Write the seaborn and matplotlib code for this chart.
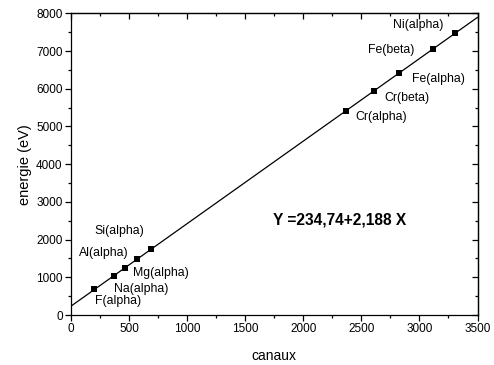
import matplotlib
matplotlib.use("Agg")
import matplotlib.pyplot as plt
import seaborn as sns
import numpy as np
import pandas as pd
from matplotlib.ticker import MultipleLocator

# Data
labels = ["F(alpha)", "Na(alpha)", "Mg(alpha)", "Al(alpha)", "Si(alpha)",
          "Cr(alpha)", "Cr(beta)", "Fe(alpha)", "Fe(beta)", "Ni(alpha)"]
canaux = [202, 368, 466, 572, 688, 2367, 2611, 2820, 3118, 3310]
energie = [677, 1041, 1254, 1487, 1740, 5415, 5947, 6404, 7058, 7478]
intercept = 234.74
slope = 2.188
fit_x = [0, 3500]
equation = "Y =234,74+2,188 X"

# label anchor positions (data coords)
label_x = [207, 370, 534, 69, 198, 2445, 2695, 2936, 2557, 2772]
label_y = [371, 689, 1114, 1644, 2228, 5251, 5754, 6258, 7027, 7690]

sns.set_style("white")
plt.rcParams['font.family'] = ['Liberation Sans', 'DejaVu Sans']
plt.rcParams['text.color'] = 'black'
plt.rcParams['axes.labelcolor'] = 'black'
plt.rcParams['xtick.color'] = 'black'
plt.rcParams['ytick.color'] = 'black'

fig = plt.figure(figsize=(4.94, 3.65), dpi=100)
ax = fig.add_axes([71/494, 50/365, 406.5/494, 301.7/365])

df_fit = pd.DataFrame({"x": fit_x, "y": [intercept + slope*v for v in fit_x]})
sns.lineplot(data=df_fit, x="x", y="y", ax=ax, color="black", linewidth=0.9)

df = pd.DataFrame({"canaux": canaux, "energie": energie})
sns.scatterplot(data=df, x="canaux", y="energie", ax=ax, marker="s", s=24,
                color="black", edgecolor="black", linewidth=0, zorder=3)

for lab, lx, ly in zip(labels, label_x, label_y):
    ax.text(lx, ly, lab, ha="left", va="center", fontsize=8.8, color="black")

ax.text(1739, 2519, equation, ha="left", va="center", fontsize=11.2,
        fontweight="bold", color="black")

ax.set_xlim(0, 3500)
ax.set_ylim(0, 8000)
ax.xaxis.set_major_locator(MultipleLocator(500))
ax.xaxis.set_minor_locator(MultipleLocator(250))
ax.yaxis.set_major_locator(MultipleLocator(1000))
ax.yaxis.set_minor_locator(MultipleLocator(500))

ax.set_xlabel("canaux", fontsize=10, labelpad=10)
ax.set_ylabel("energie (eV)", fontsize=10.5, labelpad=3)

for sp in ax.spines.values():
    sp.set_visible(True)
    sp.set_color("black")
    sp.set_linewidth(0.9)

ax.tick_params(which="major", direction="out", length=4, width=0.9, labelsize=8.5,
               colors="black", bottom=True, left=True, top=False, right=False, pad=2)
ax.tick_params(which="minor", direction="out", length=2.5, width=0.9,
               bottom=True, left=True, top=False, right=False)

# inward ticks on top and right
axt = ax.secondary_xaxis("top")
axt.xaxis.set_major_locator(MultipleLocator(500))
axt.xaxis.set_minor_locator(MultipleLocator(250))
axt.tick_params(which="major", direction="in", length=4, width=0.9, labeltop=False)
axt.tick_params(which="minor", direction="in", length=2.5, width=0.9)
axt.spines["top"].set_linewidth(0.9)
axr = ax.secondary_yaxis("right")
axr.yaxis.set_major_locator(MultipleLocator(1000))
axr.yaxis.set_minor_locator(MultipleLocator(500))
axr.tick_params(which="major", direction="in", length=4, width=0.9, labelright=False)
axr.tick_params(which="minor", direction="in", length=2.5, width=0.9)
axr.spines["right"].set_linewidth(0.9)

fig.savefig("out.png", dpi=100)
